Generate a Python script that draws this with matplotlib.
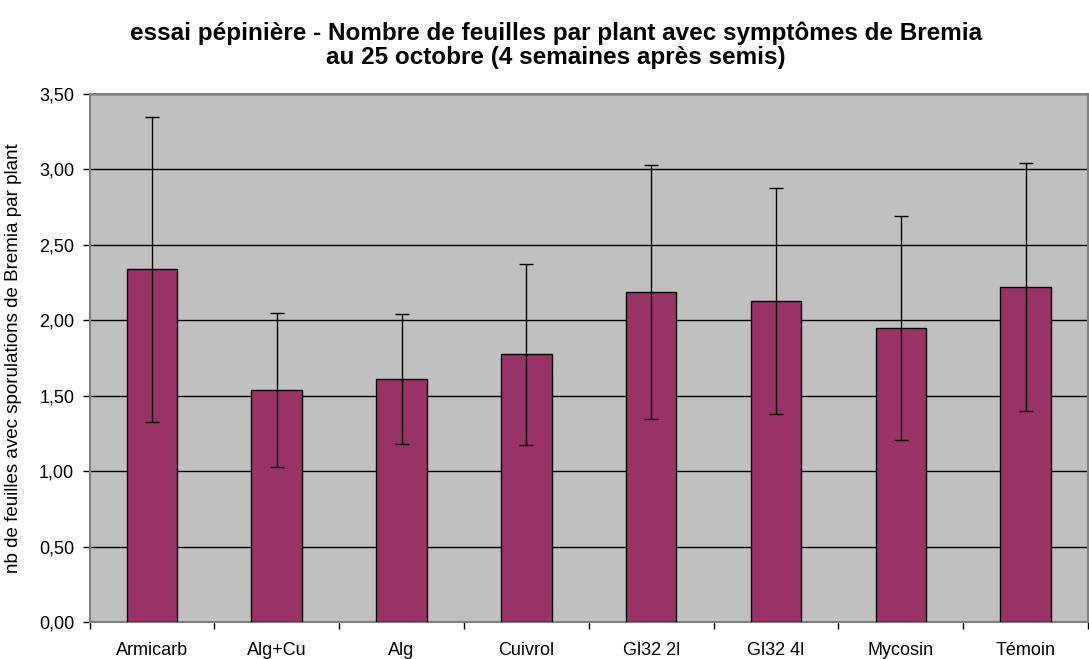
import matplotlib
matplotlib.use("Agg")
import matplotlib.pyplot as plt
import numpy as np

categories = ["Armicarb", "Alg+Cu", "Alg", "Cuivrol", "Gl32 2l", "Gl32 4l", "Mycosin", "Témoin"]
values = [2.34, 1.54, 1.61, 1.775, 2.19, 2.13, 1.95, 2.22]
errors = [1.01, 0.51, 0.43, 0.60, 0.84, 0.75, 0.74, 0.82]
yticks = [0.0, 0.5, 1.0, 1.5, 2.0, 2.5, 3.0, 3.5]
ytick_labels = ["0,00", "0,50", "1,00", "1,50", "2,00", "2,50", "3,00", "3,50"]

plt.rcParams['font.family'] = ['Liberation Sans', 'DejaVu Sans']

fig = plt.figure(figsize=(10.89, 6.59), dpi=100)
ax = fig.add_axes([89.5/1089, 1 - 622.3/659, (1088 - 89.5)/1089, (622.3 - 94)/659])
ax.set_facecolor('#C0C0C0')

x = np.arange(len(categories))
ax.bar(x, values, width=0.405, color='#993366', edgecolor='black', linewidth=1.0, zorder=3)
ax.errorbar(x, values, yerr=errors, fmt='none', ecolor='black', elinewidth=1.0,
            capsize=5, capthick=1.0, zorder=4)

ax.set_xlim(-0.5, len(categories) - 0.5)
ax.set_ylim(0, 3.5)
ax.set_yticks(yticks)
ax.set_yticklabels(ytick_labels, fontsize=13)
ax.set_xticks(x)
ax.set_xticklabels(categories, fontsize=13)
ax.tick_params(axis='x', length=0, pad=14)
ax.set_xticks(np.arange(len(categories) + 1) - 0.5, minor=True)
ax.tick_params(axis='x', which='minor', length=5, width=1, color='black')
ax.tick_params(axis='y', length=5, width=1, color='black', pad=6)

ax.yaxis.grid(True, color='black', linewidth=1.0, zorder=1)
ax.set_axisbelow(True)

for side in ['top', 'right', 'left', 'bottom']:
    ax.spines[side].set_color('#808080')
    ax.spines[side].set_linewidth(1.5)

ax.set_ylabel("nb de feuilles avec sporulations de Bremia par plant", fontsize=13.5)
ax.yaxis.set_label_coords(-(89.5 - 22) / (1088 - 89.5), 0.5)

fig.text(556/1089, 1 - 45/659,
         "essai pépinière - Nombre de feuilles par plant avec symptômes de Bremia\nau 25 octobre (4 semaines après semis)",
         ha='center', va='center', fontsize=17.5, fontweight='bold', linespacing=1.08)

fig.savefig("out.png", dpi=100)
